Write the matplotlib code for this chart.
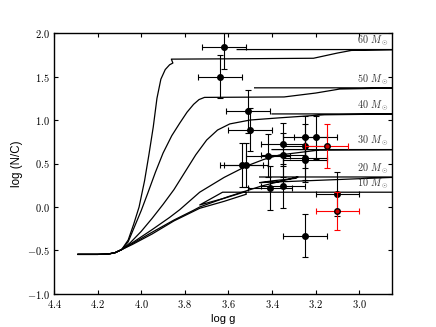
import matplotlib
matplotlib.use("Agg")
import matplotlib.pyplot as plt
import numpy as np

plt.rcParams['mathtext.fontset'] = 'cm'
plt.rcParams['font.family'] = ['Liberation Sans', 'DejaVu Sans']

# ---- evolutionary tracks (log g, log N/C) ----
zams_x = [4.29, 4.20, 4.15, 4.12, 4.09]
zams_y = [-0.545, -0.545, -0.54, -0.525, -0.49]

track_masses = [60, 50, 40, 30, 20, 10]
track_60_x = [4.06, 4.035, 4.01, 3.985, 3.965, 3.945, 3.928, 3.91, 3.89, 3.87, 3.855, 3.862, 3.846, 3.50, 3.21, 3.10, 3.036, 2.80, 3.56]
track_60_y = [-0.38, -0.20, 0.00, 0.30, 0.60, 0.92, 1.25, 1.47, 1.58, 1.635, 1.655, 1.70, 1.70, 1.705, 1.71, 1.77, 1.80, 1.81, 1.81]
track_50_x = [4.06, 4.03, 4.00, 3.97, 3.935, 3.90, 3.86, 3.823, 3.79, 3.76, 3.735, 3.71, 3.345, 3.20, 3.09, 2.80, 3.48]
track_50_y = [-0.40, -0.22, -0.04, 0.16, 0.40, 0.62, 0.82, 0.966, 1.09, 1.18, 1.235, 1.26, 1.265, 1.31, 1.356, 1.37, 1.37]
track_40_x = [4.05, 4.00, 3.95, 3.90, 3.85, 3.80, 3.75, 3.70, 3.65, 3.594, 3.50, 3.366, 3.16, 2.80, 3.40]
track_40_y = [-0.41, -0.28, -0.13, 0.03, 0.20, 0.40, 0.60, 0.77, 0.885, 0.955, 1.00, 1.025, 1.06, 1.07, 1.07]
track_30_x = [4.04, 3.95, 3.87, 3.823, 3.732, 3.62, 3.518, 3.44, 3.366, 3.183, 2.80, 3.40]
track_30_y = [-0.41, -0.26, -0.12, -0.03, 0.17, 0.34, 0.47, 0.545, 0.598, 0.655, 0.66, 0.66]
track_20_x = [4.04, 3.95, 3.85, 3.762, 3.732, 3.60, 3.45, 3.282, 3.29, 3.40, 3.457, 2.80, 3.457]
track_20_y = [-0.42, -0.29, -0.15, -0.04, 0.0, 0.12, 0.24, 0.345, 0.33, 0.30, 0.28, 0.345, 0.345]
track_10_x = [4.04, 3.95, 3.85, 3.732, 3.62, 3.518, 3.522, 3.62, 3.732, 3.627, 2.80]
track_10_y = [-0.43, -0.31, -0.16, -0.015, 0.065, 0.147, 0.176, 0.10, 0.023, 0.17, 0.17]
label_y = [1.83, 1.385, 1.085, 0.675, 0.36, 0.185]

# ---- observed stars ----
obs_x = [3.62, 3.64, 3.51, 3.50, 3.54, 3.52, 3.42, 3.41, 3.35, 3.35, 3.35, 3.25, 3.20, 3.25, 3.25, 3.25, 3.10, 3.25]
obs_y = [1.835, 1.50, 1.10, 0.89, 0.48, 0.48, 0.59, 0.22, 0.72, 0.60, 0.24, 0.80, 0.80, 0.70, 0.565, 0.54, 0.15, -0.33]
obs_xerr = [0.10] * len(obs_x)
obs_yerr = [0.25] * len(obs_x)

red_x = [3.15, 3.10]
red_y = [0.70, -0.05]
red_xerr = [0.10, 0.10]
red_yerr = [0.25, 0.22]

fig = plt.figure(figsize=(4.36, 3.27), dpi=100)
ax = fig.add_axes([0.124, 0.101, 0.775, 0.798])

tracks = [(track_60_x, track_60_y), (track_50_x, track_50_y), (track_40_x, track_40_y),
          (track_30_x, track_30_y), (track_20_x, track_20_y), (track_10_x, track_10_y)]
for (tx, ty) in tracks:
    ax.plot(zams_x + tx, zams_y + ty, color='black', lw=0.9, zorder=2)

for m, ly in zip(track_masses, label_y):
    ax.text(2.867, ly, r'$%d\ M_\odot$' % m, ha='right', va='bottom', fontsize=7.3, color='#333333')

ax.errorbar(obs_x, obs_y, xerr=obs_xerr, yerr=obs_yerr, fmt='o', color='black',
            ms=4, capsize=2, elinewidth=0.8, capthick=0.8, zorder=3)
ax.errorbar(red_x, red_y, xerr=red_xerr, yerr=red_yerr, fmt='o', mfc='#cc0000', mec='black',
            ecolor='red', ms=4, capsize=2, elinewidth=0.8, capthick=0.8, zorder=4)

ax.set_xlim(4.4, 2.85)
ax.set_ylim(-1.0, 2.0)
xt = [4.4, 4.2, 4.0, 3.8, 3.6, 3.4, 3.2, 3.0]
yt = [-1.0, -0.5, 0.0, 0.5, 1.0, 1.5, 2.0]
ax.set_xticks(xt)
ax.set_yticks(yt)
ax.set_xticklabels([r'$%.1f$' % v for v in xt], fontsize=7.5)
ax.set_yticklabels([r'$%.1f$' % v for v in yt], fontsize=7.5)
ax.tick_params(direction='in', top=True, right=True, length=3, width=0.8, pad=3)
for s in ax.spines.values():
    s.set_linewidth(1.0)
ax.set_xlabel('log g', fontsize=8, labelpad=3)
ax.set_ylabel('log (N/C)', fontsize=8.3, labelpad=3)

fig.savefig('out.png', dpi=100)
